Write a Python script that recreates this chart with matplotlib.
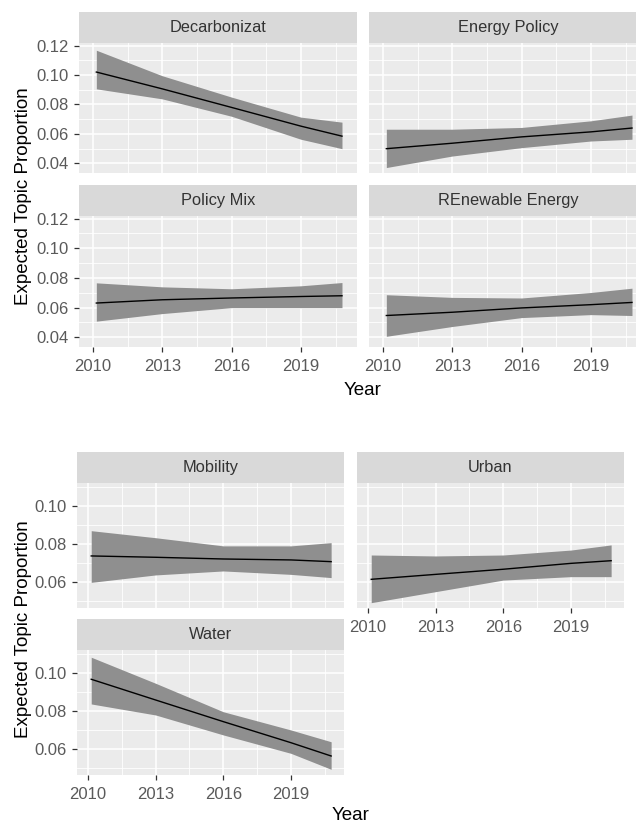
import numpy as np
import matplotlib.pyplot as plt
from matplotlib.ticker import FuncFormatter

plt.rcParams['font.family'] = ['Liberation Sans', 'DejaVu Sans']

# estimation points along the year axis
years = [2010.15, 2013, 2016, 2019, 2020.78]

decarb_mean = [0.1020, 0.0906, 0.0780, 0.0653, 0.0585]
decarb_lo = [0.0906, 0.0838, 0.0720, 0.0564, 0.0500]
decarb_hi = [0.1168, 0.0995, 0.0850, 0.0714, 0.0680]

energy_mean = [0.0500, 0.0537, 0.0580, 0.0614, 0.0640]
energy_lo = [0.0372, 0.0450, 0.0507, 0.0552, 0.0564]
energy_hi = [0.0632, 0.0632, 0.0644, 0.0689, 0.0728]

mix_mean = [0.0631, 0.0653, 0.0665, 0.0675, 0.0680]
mix_lo = [0.0509, 0.0560, 0.0600, 0.0600, 0.0600]
mix_hi = [0.0767, 0.0740, 0.0727, 0.0747, 0.0769]

renew_mean = [0.0547, 0.0569, 0.0598, 0.0620, 0.0635]
renew_lo = [0.0407, 0.0473, 0.0533, 0.0553, 0.0547]
renew_hi = [0.0687, 0.0669, 0.0665, 0.0702, 0.0731]

mobility_mean = [0.0737, 0.0730, 0.0721, 0.0716, 0.0707]
mobility_lo = [0.0598, 0.0637, 0.0658, 0.0640, 0.0623]
mobility_hi = [0.0870, 0.0833, 0.0790, 0.0790, 0.0807]

urban_mean = [0.0614, 0.0640, 0.0667, 0.0698, 0.0712]
urban_lo = [0.0491, 0.0549, 0.0610, 0.0628, 0.0628]
urban_hi = [0.0742, 0.0737, 0.0742, 0.0768, 0.0795]

water_mean = [0.0967, 0.0858, 0.0744, 0.0633, 0.0563]
water_lo = [0.0837, 0.0779, 0.0674, 0.0577, 0.0493]
water_hi = [0.1083, 0.0946, 0.0796, 0.0700, 0.0638]

year_ticks = [2010, 2013, 2016, 2019]
year_minor = [2011.5, 2014.5, 2017.5, 2020.5]

W, H = 636, 826
fig = plt.figure(figsize=(W / 100, H / 100), dpi=100)


def box(x0, y0, x1, y1):
    # pixel box (top-left origin) -> figure fraction
    return [x0 / W, 1 - y1 / H, (x1 - x0) / W, (y1 - y0) / H]


def panel(x0, y0, x1, y1, title, mean, lo, hi, xlim, ylim, yticks, yminor,
          show_x=True, show_y=True):
    strip = fig.add_axes(box(x0, y0 - 31, x1, y0))
    strip.set_facecolor('#d9d9d9')
    strip.set_xticks([])
    strip.set_yticks([])
    for s in strip.spines.values():
        s.set_visible(False)
    strip.text(0.5, 0.5, title, ha='center', va='center', fontsize=11.8,
               color='#333333', transform=strip.transAxes)

    ax = fig.add_axes(box(x0, y0, x1, y1))
    ax.set_facecolor('#ebebeb')
    ax.fill_between(years, lo, hi, color='#8f8f8f', lw=0, zorder=2)
    ax.plot(years, mean, color='black', lw=1.0, zorder=3)
    ax.set_xlim(xlim)
    ax.set_ylim(ylim)
    ax.set_xticks(year_ticks)
    ax.set_xticks(year_minor, minor=True)
    ax.set_yticks(yticks)
    ax.set_yticks(yminor, minor=True)
    ax.yaxis.set_major_formatter(FuncFormatter(lambda v, p: f'{v:.2f}'))
    ax.grid(which='major', color='white', lw=1.1)
    ax.grid(which='minor', color='white', lw=0.6)
    ax.set_axisbelow(True)
    for s in ax.spines.values():
        s.set_visible(False)
    ax.tick_params(which='minor', length=0)
    ax.tick_params(which='major', length=3.5, width=0.9, color='#333333',
                   labelsize=12, labelcolor='#5a5a5a')
    ax.tick_params(axis='x', pad=5)
    ax.tick_params(axis='y', pad=4)
    if not show_x:
        ax.tick_params(axis='x', which='both', length=0, labelbottom=False)
    if not show_y:
        ax.tick_params(axis='y', which='both', length=0, labelleft=False)
    return ax


# upper block: four topics in a 2x2 grid
top_x = (2009.4, 2021.43)
top_y = (0.0335, 0.1217)
top_ticks = [0.04, 0.06, 0.08, 0.10, 0.12]
top_minor = [0.05, 0.07, 0.09, 0.11]

panel(79, 43, 357, 173, 'Decarbonizat', decarb_mean, decarb_lo, decarb_hi,
      top_x, top_y, top_ticks, top_minor, show_x=False)
panel(369, 43, 647, 173, 'Energy Policy', energy_mean, energy_lo, energy_hi,
      top_x, top_y, top_ticks, top_minor, show_x=False, show_y=False)
panel(79, 216, 357, 347, 'Policy Mix', mix_mean, mix_lo, mix_hi,
      top_x, top_y, top_ticks, top_minor)
panel(369, 216, 647, 347, 'REnewable Energy', renew_mean, renew_lo, renew_hi,
      top_x, top_y, top_ticks, top_minor, show_y=False)

fig.text(24 / W, 1 - 196 / H, 'Expected Topic Proportion', rotation=90,
         ha='center', va='center', fontsize=13.5)
fig.text(363 / W, 1 - 390 / H, 'Year', ha='center', va='center', fontsize=13.5)

# lower block: three topics
bot_x = (2009.52, 2021.35)
bot_y = (0.0463, 0.1121)
bot_ticks = [0.06, 0.08, 0.10]
bot_minor = [0.05, 0.07, 0.09, 0.11]

panel(77, 483, 344, 608, 'Mobility', mobility_mean, mobility_lo, mobility_hi,
      bot_x, bot_y, bot_ticks, bot_minor, show_x=False)
panel(357, 483, 624, 608, 'Urban', urban_mean, urban_lo, urban_hi,
      bot_x, bot_y, bot_ticks, bot_minor, show_y=False)
panel(77, 650, 344, 775, 'Water', water_mean, water_lo, water_hi,
      bot_x, bot_y, bot_ticks, bot_minor)

fig.text(24 / W, 1 - 629 / H, 'Expected Topic Proportion', rotation=90,
         ha='center', va='center', fontsize=13.5)
fig.text(351 / W, 1 - 815 / H, 'Year', ha='center', va='center', fontsize=13.5)

fig.savefig('out.png', dpi=100)
